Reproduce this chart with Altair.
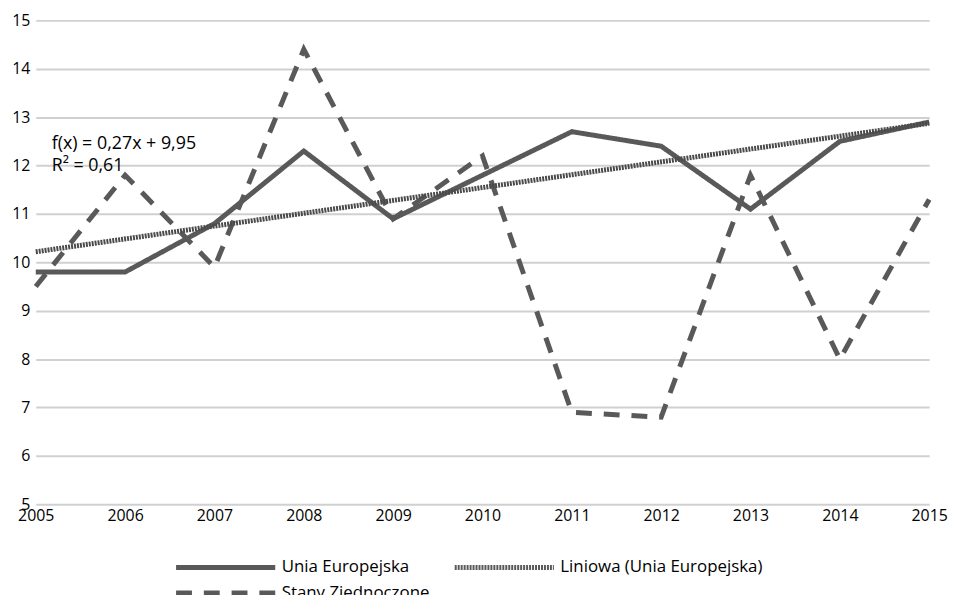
import altair as alt
import pandas as pd

years = [2005, 2006, 2007, 2008, 2009, 2010, 2011, 2012, 2013, 2014, 2015]
eu = [9.8, 9.8, 10.8, 12.3, 10.9, 11.8, 12.7, 12.4, 11.1, 12.5, 12.9]
us = [9.5, 11.8, 9.9, 14.4, 10.9, 12.2, 6.9, 6.8, 11.8, 8.0, 11.3]
series_names = ["Unia Europejska", "Liniowa (Unia Europejska)", "Stany Zjednoczone"]
annotation_lines = ["f(x) = 0,27x + 9,95", "R² = 0,61"]

df = pd.DataFrame(
    {"year": years * 2,
     "value": eu + us,
     "series": [series_names[0]] * len(years) + [series_names[2]] * len(years)}
)
df_eu = pd.DataFrame({"year": years, "value": eu})

FONT = "Open Sans"
GREY = "#595959"

# legend laid out column-major: col 1 = EU, US ; col 2 = trend
legend_order = [series_names[0], series_names[2], series_names[1]]
dash_scale = alt.Scale(domain=legend_order, range=[[1, 0], [16, 12], [2, 1]])
width_scale = alt.Scale(domain=legend_order, range=[5, 5, 3.5])
legend = alt.Legend(
    title=None, orient="none", legendX=179, legendY=539, columns=2, padding=0,
    symbolType="M-5,0H5", symbolSize=400, symbolStrokeColor=GREY,
    labelFont=FONT, labelFontSize=17, labelColor="#000000", labelOffset=44,
    labelLimit=400, columnPadding=14, rowPadding=3,
)

x_enc = alt.X("year:Q", scale=alt.Scale(domain=[2005, 2015], nice=False, zero=False),
              axis=alt.Axis(title=None, values=years, format="d", grid=False, domain=False,
                            ticks=False, labelFont=FONT, labelFontSize=16, labelColor="#000000",
                            labelPadding=3, labelFlush=False, labelOverlap=False))
y_enc = alt.Y("value:Q", scale=alt.Scale(domain=[5, 15], nice=False, zero=False),
              axis=alt.Axis(title=None, values=list(range(5, 16)), grid=True, gridColor="#d0d0d0",
                            gridWidth=2, domain=False, ticks=False, labelFont=FONT,
                            labelFontSize=16, labelColor="#000000", labelPadding=6))

lines = alt.Chart(df).mark_line(color=GREY, strokeCap="butt", strokeJoin="miter").encode(
    x=x_enc, y=y_enc,
    strokeDash=alt.StrokeDash("series:N", scale=dash_scale, legend=legend),
    strokeWidth=alt.StrokeWidth("series:N", scale=width_scale, legend=legend),
    detail="series:N",
)

trend = alt.Chart(df_eu).transform_regression("year", "value", method="linear").transform_calculate(
    series="'" + series_names[1] + "'"
).mark_line(color="#4a4a4a", strokeCap="butt").encode(
    x="year:Q", y="value:Q",
    strokeDash=alt.StrokeDash("series:N", scale=dash_scale, legend=legend),
    strokeWidth=alt.StrokeWidth("series:N", scale=width_scale, legend=legend),
)

ann = alt.Chart(pd.DataFrame({"t": [annotation_lines]})).mark_text(
    align="left", baseline="middle", font=FONT, fontSize=18, color="#000000", lineHeight=22, dx=16
).encode(x=alt.datum(2005), y=alt.datum(12.45), text="t")

chart = alt.layer(lines, trend, ann).properties(
    width=901, height=488,
    autosize=alt.AutoSizeParams(type="none"),
    padding={"left": 28, "top": 10, "right": 23, "bottom": 89},
).configure_view(stroke=None)

chart.save("out.html", embed_options={"renderer": "svg", "actions": False})
